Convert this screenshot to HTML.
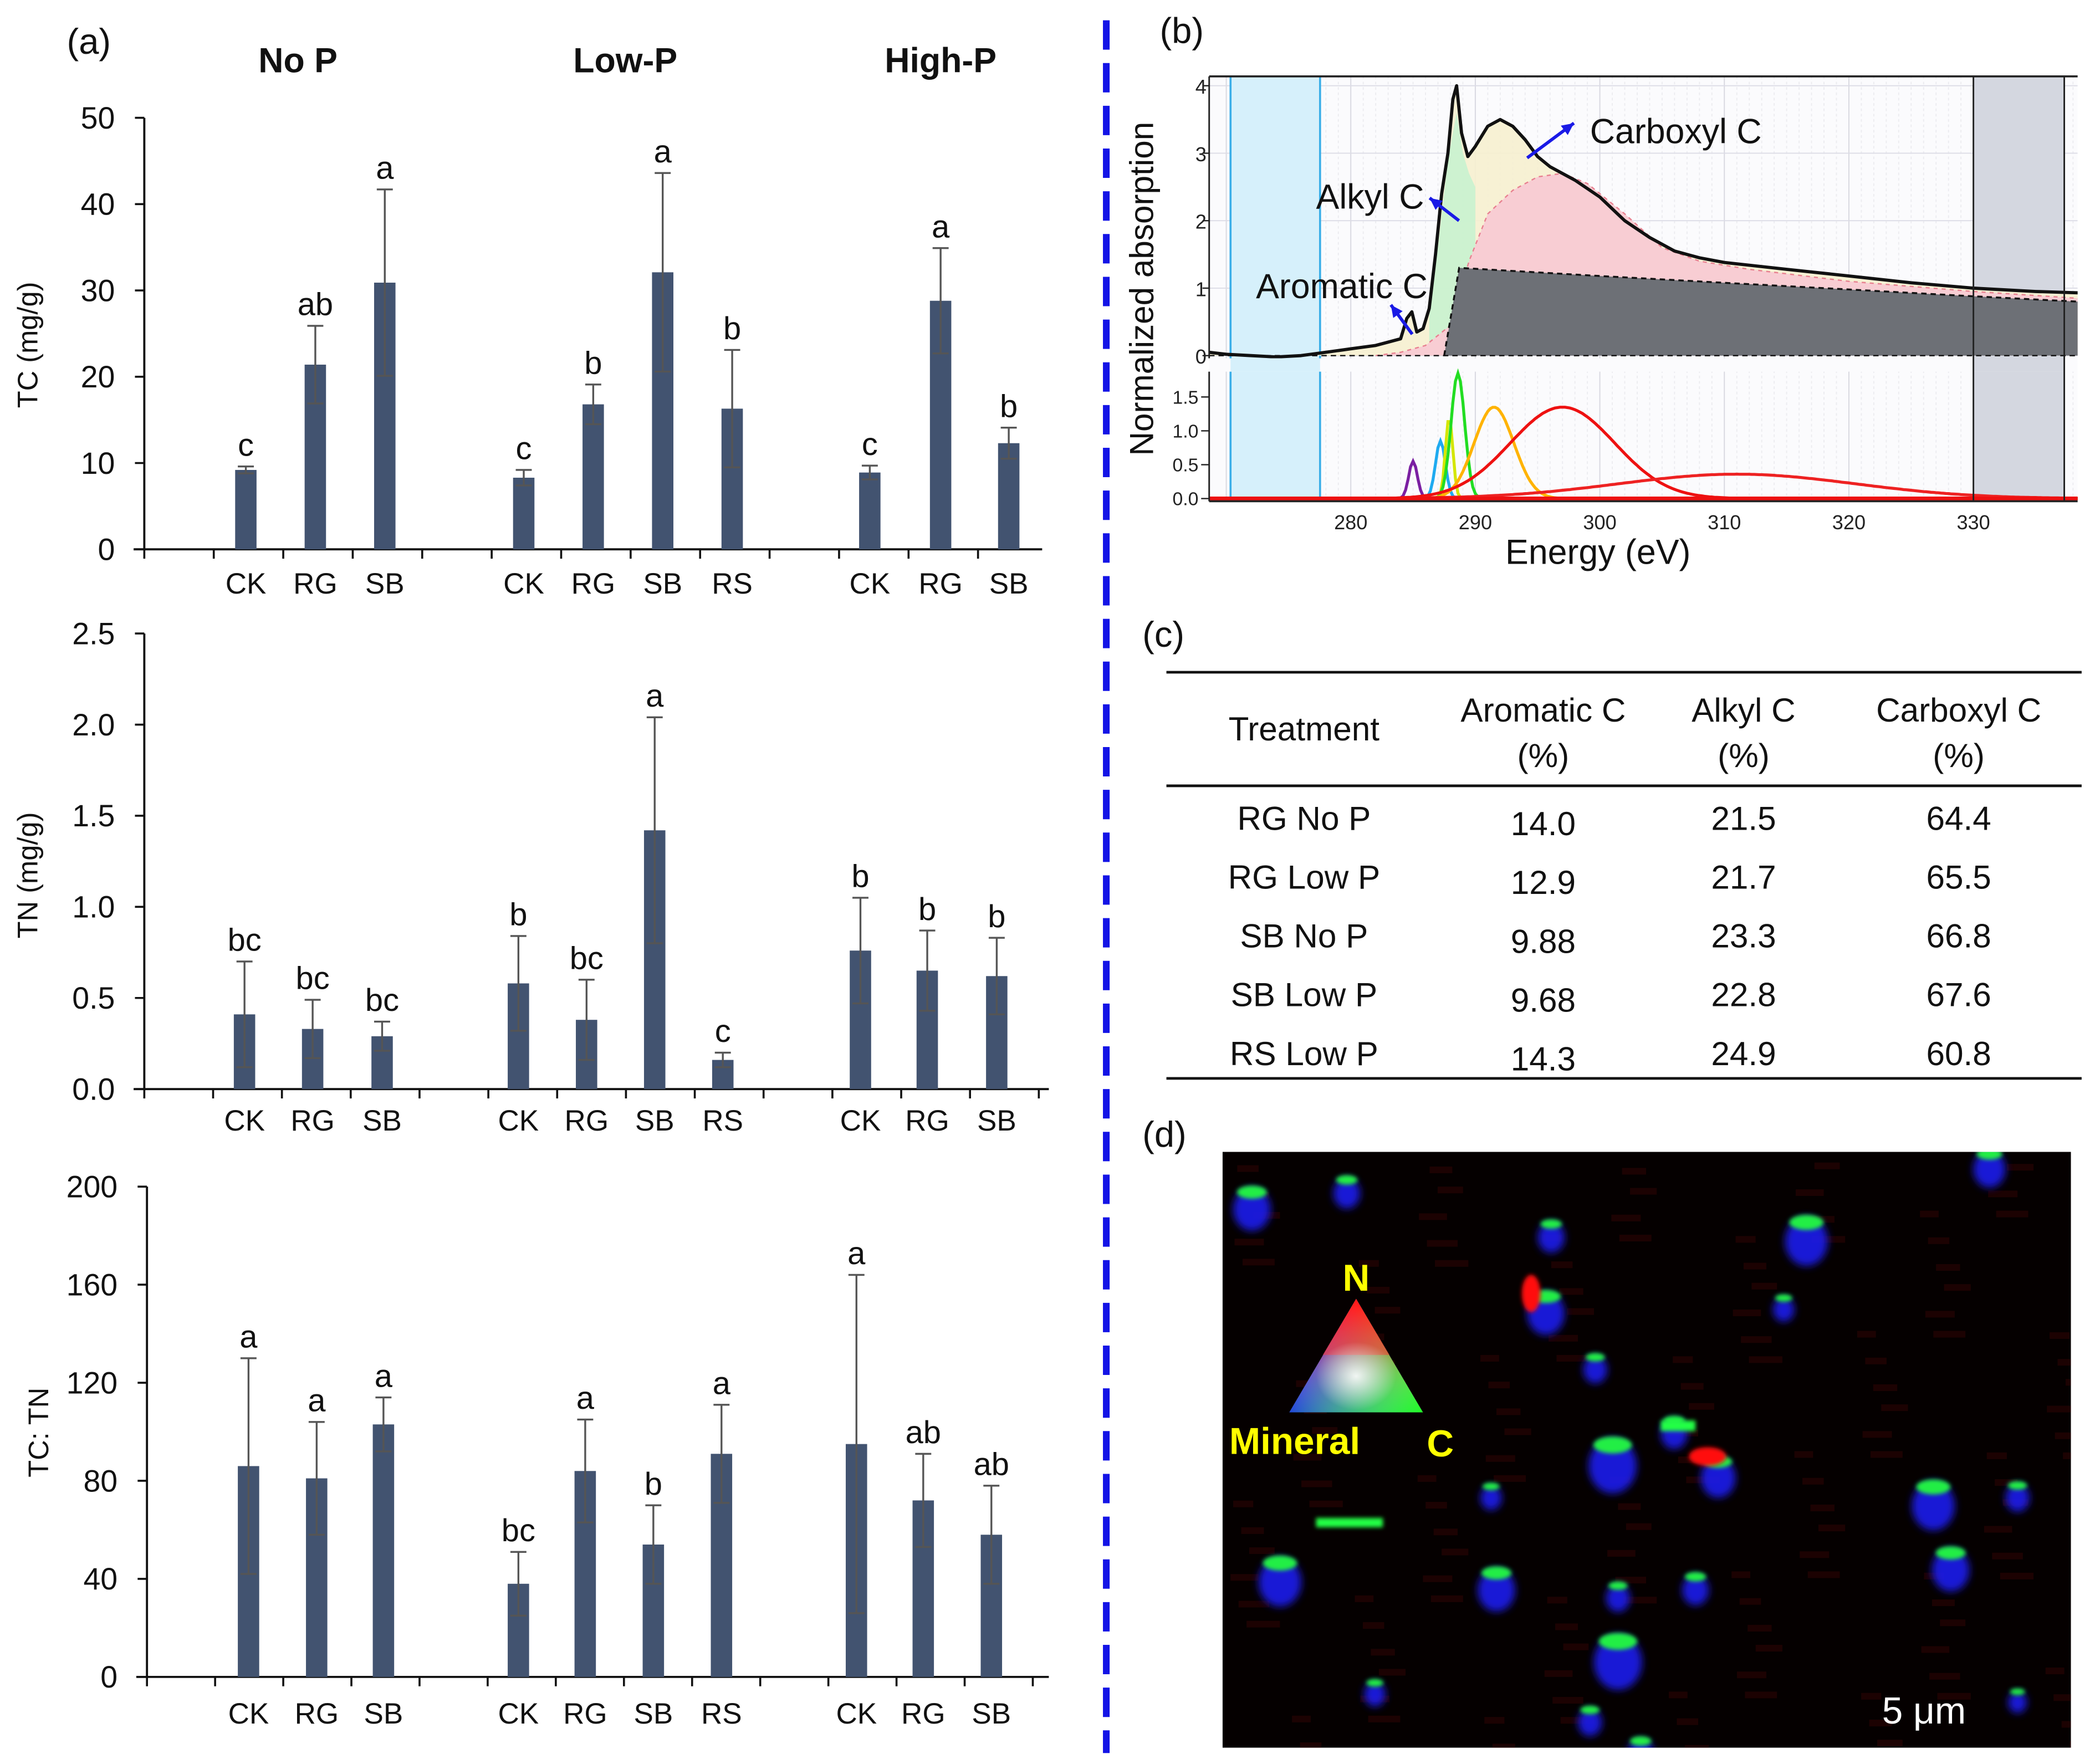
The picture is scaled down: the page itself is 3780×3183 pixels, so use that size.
<!DOCTYPE html>
<html><head><meta charset="utf-8">
<style>
html,body{margin:0;padding:0;background:#fff;}
svg{display:block;font-family:"Liberation Sans",Arial,sans-serif;}
</style></head>
<body>
<svg id="root" xmlns="http://www.w3.org/2000/svg" width="3780" height="3183" viewBox="0 0 1568 1320">
<defs>
<filter id="blur2" x="-50%" y="-50%" width="200%" height="200%"><feGaussianBlur stdDeviation="3"/></filter>
<filter id="blur1" x="-50%" y="-50%" width="200%" height="200%"><feGaussianBlur stdDeviation="1.5"/></filter>
<linearGradient id="triR" x1="0.5" y1="0" x2="0.5" y2="1"><stop offset="0" stop-color="#ff0000"/><stop offset="1" stop-color="#ff0000" stop-opacity="0"/></linearGradient>
<linearGradient id="triB" x1="0" y1="1" x2="0.75" y2="0.4"><stop offset="0" stop-color="#0000ff"/><stop offset="1" stop-color="#0000ff" stop-opacity="0"/></linearGradient>
<linearGradient id="triG" x1="1" y1="1" x2="0.25" y2="0.4"><stop offset="0" stop-color="#00ff00"/><stop offset="1" stop-color="#00ff00" stop-opacity="0"/></linearGradient>
<radialGradient id="triW" cx="0.5" cy="0.68" r="0.3"><stop offset="0" stop-color="#ffffff" stop-opacity="0.9"/><stop offset="1" stop-color="#ffffff" stop-opacity="0"/></radialGradient>
<clipPath id="clipB"><rect x="905" y="57" width="650" height="318"/></clipPath>
<clipPath id="clipD"><rect x="915" y="862" width="635" height="446"/></clipPath>
</defs>
<rect x="0" y="0" width="1568" height="1320" fill="#fff"/>
<g id="panelA"></g>
<line x1="828" y1="15" x2="828" y2="1312" stroke="#1414e6" stroke-width="5" stroke-dasharray="22,10"/>
<g id="panelB"></g>
<g id="panelC"></g>
<g id="panelD"></g>
</svg>
<script>
// ===== Panel (a) data =====
const categories = ["CK","RG","SB","CK","RG","SB","RS","CK","RG","SB"];
const groups = ["No P","Low-P","High-P"];
const tcValues = [9.2,21.4,30.9,8.3,16.8,32.1,16.3,8.9,28.8,12.3];
const tcErrors = [0.4,4.5,10.8,0.9,2.3,11.5,6.8,0.8,6.1,1.8];
const tcLetters = ["c","ab","a","c","b","a","b","c","a","b"];
const tcTicks = [0,10,20,30,40,50];
const tnValues = [0.41,0.33,0.29,0.58,0.38,1.42,0.16,0.76,0.65,0.62];
const tnErrors = [0.29,0.16,0.08,0.26,0.22,0.62,0.04,0.29,0.22,0.21];
const tnLetters = ["bc","bc","bc","b","bc","a","c","b","b","b"];
const tnTicks = ["0.0","0.5","1.0","1.5","2.0","2.5"];
const ratioValues = [86,81,103,38,84,54,91,95,72,58];
const ratioErrors = [44,23,11,13,21,16,20,69,19,20];
const ratioLetters = ["a","a","a","bc","a","b","a","a","ab","ab"];
const ratioTicks = [0,40,80,120,160,200];

// ===== Panel (b) data =====
const specE = [268.6,270,272,274,276,278,280,282,283,284,284.5,284.9,285.3,285.8,286.3,286.8,287.3,287.8,288.2,288.5,288.9,289.4,290,291,292,293,294,295,296,298,300,302,304,306,308,310,315,320,325,330,335,338.4];
const specA = [0.05,0.02,0.0,-0.02,0.0,0.05,0.1,0.15,0.2,0.25,0.55,0.65,0.35,0.4,0.7,1.5,2.4,3.0,3.8,4.0,3.3,2.95,3.1,3.4,3.5,3.4,3.2,2.95,2.8,2.6,2.35,2.0,1.75,1.55,1.45,1.38,1.28,1.18,1.08,1.0,0.95,0.93];
const stepE = [287.5,288.7,300,310,320,330,338.4];
const stepA = [0,1.3,1.18,1.08,0.98,0.88,0.8];
const pinkE = [282,284,286,288,289.5,291,293,295,297,299,302,305,308,312,320,330,338.4];
const pinkA = [0,0.05,0.15,0.45,1.4,2.1,2.45,2.65,2.7,2.55,2.1,1.6,1.4,1.28,1.1,0.95,0.85];
const greenE = [286.3,287,287.8,288.5,289,289.5,290];
const greenA = [0.6,1.6,2.9,3.6,3.0,2.7,2.5];
const peakCenters = [285.0,287.2,287.9,288.6,291.5,297.0,311.0];
const peakHeights = [0.55,0.85,1.2,1.85,1.35,1.35,0.36];
const peakWidths = [0.35,0.4,0.3,0.55,1.6,4.2,9.5];
const peakColors = ["#7b1fa2","#1eaaf0","#d4e600","#22dd22","#ffb300","#ee1111","#ee2222"];
const eTicks = [280,290,300,310,320,330];
const topTicks = [0,1,2,3,4];
const botTicks = ["0.0","0.5","1.0","1.5"];

// ===== Panel (c) data =====
const tableHead = [["Treatment",""],["Aromatic C","(%)"],["Alkyl C","(%)"],["Carboxyl C","(%)"]];
const tableRows = [["RG No P","14.0","21.5","64.4"],["RG Low P","12.9","21.7","65.5"],["SB No P","9.88","23.3","66.8"],["SB Low P","9.68","22.8","67.6"],["RS Low P","14.3","24.9","60.8"]];

// ===== Panel (d) particle positions =====
const blobX = [937,1008,1161,1352,1157,1194,1207,1286,1253,1116,958,1120,1211,1269,1211,1447,1460,1510,1489,1335,1510,1029,1228,1190];
const blobY = [902,890,923,926,980,1022,1094,1103,1070,1118,1181,1187,1193,1187,1241,1124,1172,1118,872,977,1271,1265,1310,1286];
const blobR = [14,10,10,16,14,9,18,13,10,8,16,14,9,10,18,16,14,9,12,8,7,8,10,9];

const NS = "http://www.w3.org/2000/svg";
function el(tag, attrs, parent, text){
  const e = document.createElementNS(NS, tag);
  for (const k in attrs) e.setAttribute(k, attrs[k]);
  if (text !== undefined) e.textContent = text;
  parent.appendChild(e);
  return e;
}

// ===== Panel (a) =====
const pA = document.getElementById('panelA');
let t = el('text',{x:50,y:40,'font-size':27,fill:'#111'},pA,'(a)');


const groupX = [223,468,704];
groups.forEach((g,i)=>{
  const gt = el('text',{x:groupX[i],y:54,'font-size':26,'font-weight':'bold','text-anchor':'middle',fill:'#111'},pA,g);
  
  
});

function barChart(cfg){
  const g = el('g',{},pA);
  
  
  const yScale = v => cfg.y0 - (v - cfg.min)/(cfg.max - cfg.min)*(cfg.y0 - cfg.y1);
  const ya = el('line',{x1:cfg.ax,y1:cfg.y1,x2:cfg.ax,y2:cfg.y0,stroke:'#111','stroke-width':1.6},g);
  
  
  const xa = el('line',{x1:cfg.ax-8,y1:cfg.y0,x2:cfg.axEnd,y2:cfg.y0,stroke:'#111','stroke-width':1.6},g);
  
  
  cfg.ticks.forEach(tk=>{
    const v = parseFloat(tk);
    const y = yScale(v);
    el('line',{x1:cfg.ax-7,y1:y,x2:cfg.ax,y2:y,stroke:'#111','stroke-width':1.5},g);
    const tl = el('text',{x:cfg.ax-22,y:y+8,'font-size':23,'text-anchor':'end',fill:'#111'},g,String(tk));
    
    
  });
  for (let x = cfg.ax; x <= cfg.axEnd + 1; x += cfg.tickStep){
    el('line',{x1:x,y1:cfg.y0,x2:x,y2:cfg.y0+7,stroke:'#111','stroke-width':1.5},g);
  }
  const yt = el('text',{x:0,y:0,'font-size':21,'text-anchor':'middle',fill:'#111',transform:`translate(${cfg.titleX},${cfg.titleY}) rotate(-90)`},g,cfg.title);
  
  
  cfg.values.forEach((v,i)=>{
    const cx = cfg.xs[i];
    const top = yScale(v);
    const b = el('rect',{x:cx-8,y:top,width:16,height:cfg.y0-top,fill:'#425370'},g);
    
    
    const eh = yScale(v+cfg.errors[i]), el2 = yScale(Math.max(cfg.min, v-cfg.errors[i]));
    const eb = el('line',{x1:cx,y1:eh,x2:cx,y2:el2,stroke:'#555','stroke-width':1.4},g);
    
    
    el('line',{x1:cx-6,y1:eh,x2:cx+6,y2:eh,stroke:'#555','stroke-width':1.4},g);
    el('line',{x1:cx-6,y1:el2,x2:cx+6,y2:el2,stroke:'#555','stroke-width':1.4},g);
    const lt = el('text',{x:cx,y:eh-8,'font-size':24,'text-anchor':'middle',fill:'#111'},g,cfg.letters[i]);
    
    
    const ct = el('text',{x:cx,y:cfg.labelY,'font-size':22,'text-anchor':'middle',fill:'#111'},g,categories[i]);
    
    
  });
}
barChart({name:'tc-chart',ax:108,axEnd:780,y0:411,y1:88,min:0,max:50,ticks:tcTicks,tickStep:52,
  values:tcValues,errors:tcErrors,letters:tcLetters,xs:[184,236,288,392,444,496,548,651,704,755],
  labelY:444,title:'TC (mg/g)',titleX:28,titleY:258});
barChart({name:'tn-chart',ax:108,axEnd:785,y0:815,y1:474,min:0,max:2.5,ticks:tnTicks,tickStep:51.5,
  values:tnValues,errors:tnErrors,letters:tnLetters,xs:[183,234,286,388,439,490,541,644,694,746],
  labelY:846,title:'TN (mg/g)',titleX:28,titleY:655});
barChart({name:'tc-tn-ratio-chart',ax:110,axEnd:785,y0:1255,y1:888,min:0,max:200,ticks:ratioTicks,tickStep:51,
  values:ratioValues,errors:ratioErrors,letters:ratioLetters,xs:[186,237,287,388,438,489,540,641,691,742],
  labelY:1290,title:'TC: TN',titleX:36,titleY:1072});

// ===== Panel (b) =====
const pB = document.getElementById('panelB');
const ex = e => 1011 + (e-280)*9.32;
const ty = a => 266 - a*50.5;
const by = a => 373 - a*50.7;
t = el('text',{x:868,y:32,'font-size':27,fill:'#111'},pB,'(b)');


const plot = el('g',{'clip-path':'url(#clipB)'},pB);
el('rect',{x:905,y:57,width:650,height:318,fill:'#fbfbfd'},plot);
for (let e=270;e<=338;e+=1){
  el('line',{x1:ex(e),y1:57,x2:ex(e),y2:375,stroke: e%10===0?'#d8d8e0':'#ececf0','stroke-width':0.8,'stroke-dasharray': e%10===0?'':'2,2'},plot);
}
topTicks.forEach(v=>el('line',{x1:905,y1:ty(v),x2:1555,y2:ty(v),stroke:'#dcdce6','stroke-width':0.8},plot));
const blueR = el('rect',{x:921,y:57,width:67,height:318,fill:'#d6f0fb'},plot);


el('line',{x1:921,y1:57,x2:921,y2:375,stroke:'#3aaee8','stroke-width':1.5},plot);
el('line',{x1:988,y1:57,x2:988,y2:375,stroke:'#3aaee8','stroke-width':1.5},plot);
const grayR = el('rect',{x:1477,y:57,width:68,height:318,fill:'#d4d7e0'},plot);


function ptsPath(E,A,yf,close){
  let d = '';
  E.forEach((e,i)=>{ d += (i?'L':'M') + ex(e).toFixed(1) + ',' + yf(A[i]).toFixed(1); });
  if (close) d += `L${ex(E[E.length-1]).toFixed(1)},${yf(0)}L${ex(E[0]).toFixed(1)},${yf(0)}Z`;
  return d;
}
const yel = el('path',{d:ptsPath(specE,specA,ty,true),fill:'#f6f0cf',opacity:0.9},plot);


const grn = el('path',{d:ptsPath(greenE,greenA,ty,true),fill:'#c8f2cf',opacity:0.9},plot);


const pnk = el('path',{d:ptsPath(pinkE,pinkA,ty,true),fill:'#f8cdd3'},plot);


el('path',{d:ptsPath(pinkE,pinkA,ty,false),fill:'none',stroke:'#e88090','stroke-width':1,'stroke-dasharray':'3,3'},plot);
const stp = el('path',{d:ptsPath(stepE,stepA,ty,true),fill:'#6d7076'},plot);


el('path',{d:ptsPath(stepE,stepA,ty,false),fill:'none',stroke:'#111','stroke-width':1.4,'stroke-dasharray':'4,3'},plot);
el('line',{x1:905,y1:ty(0),x2:1555,y2:ty(0),stroke:'#111','stroke-width':1,'stroke-dasharray':'4,3'},plot);
const sp = el('path',{d:ptsPath(specE,specA,ty,false),fill:'none',stroke:'#111','stroke-width':2.4,'stroke-linejoin':'round'},plot);


el('rect',{x:905,y:268,width:650,height:10,fill:'#fbfbfd'},plot);
el('rect',{x:921,y:268,width:67,height:10,fill:'#d6f0fb'},plot);
el('rect',{x:1477,y:268,width:68,height:10,fill:'#d4d7e0'},plot);
peakCenters.forEach((c,i)=>{
  let d='';
  for (let e=268.6;e<=338.4;e+=0.2){
    const a = peakHeights[i]*Math.exp(-0.5*Math.pow((e-c)/peakWidths[i],2));
    d += (d?'L':'M') + ex(e).toFixed(1) + ',' + by(a).toFixed(1);
  }
  const p = el('path',{d:d,fill:'none',stroke:peakColors[i],'stroke-width':2.2},plot);
  
  
});
el('line',{x1:905,y1:by(0),x2:1555,y2:by(0),stroke:'#ee1111','stroke-width':3},plot);
el('line',{x1:1477,y1:57,x2:1477,y2:375,stroke:'#222','stroke-width':1.2},plot);
el('line',{x1:1545,y1:57,x2:1545,y2:375,stroke:'#222','stroke-width':1.2},plot);
el('line',{x1:905,y1:57,x2:1555,y2:57,stroke:'#222','stroke-width':1.5},pB);
el('line',{x1:905,y1:57,x2:905,y2:268,stroke:'#222','stroke-width':1.2},pB);
el('line',{x1:905,y1:278,x2:905,y2:375,stroke:'#222','stroke-width':1.2},pB);
el('line',{x1:905,y1:375,x2:1555,y2:375,stroke:'#222','stroke-width':1.5},pB);
topTicks.forEach(v=>{
  el('line',{x1:900,y1:ty(v),x2:905,y2:ty(v),stroke:'#222'},pB);
  const l = el('text',{x:903,y:ty(v)+6,'font-size':15,'text-anchor':'end',fill:'#222'},pB,String(v));
  
  
});
botTicks.forEach(v=>{
  const y = by(parseFloat(v));
  el('line',{x1:899,y1:y,x2:905,y2:y,stroke:'#222'},pB);
  const l = el('text',{x:897,y:y+5,'font-size':14,'text-anchor':'end',fill:'#222'},pB,v);
  
  
});
eTicks.forEach(e=>{
  const l = el('text',{x:ex(e),y:396,'font-size':15,'text-anchor':'middle',fill:'#222'},pB,String(e));
  
  
});
t = el('text',{x:1196,y:422,'font-size':26,'text-anchor':'middle',fill:'#111'},pB,'Energy (eV)');


t = el('text',{x:0,y:0,'font-size':25,'text-anchor':'middle',fill:'#111',transform:'translate(863,216) rotate(-90)'},pB,'Normalized absorption');


function arrow(x1,y1,x2,y2,name){
  const a = el('line',{x1:x1,y1:y1,x2:x2,y2:y2,stroke:'#1a1ae6','stroke-width':2.4},pB);
  
  
  const ang = Math.atan2(y2-y1,x2-x1), L=10;
  const p1 = [x2 - L*Math.cos(ang-0.45), y2 - L*Math.sin(ang-0.45)];
  const p2 = [x2 - L*Math.cos(ang+0.45), y2 - L*Math.sin(ang+0.45)];
  el('polygon',{points:`${x2},${y2} ${p1[0]},${p1[1]} ${p2[0]},${p2[1]}`,fill:'#1a1ae6'},pB);
}
arrow(1143,118,1178,92,'carboxyl-arrow');
arrow(1092,165,1070,148,'alkyl-arrow');
arrow(1057,250,1041,228,'aromatic-arrow');
[['Carboxyl C',1190,107],['Alkyl C',985,156],['Aromatic C',940,223]].forEach(a=>{
  const l = el('text',{x:a[1],y:a[2],'font-size':26,fill:'#111'},pB,a[0]);
  
  
});

// ===== Panel (c) =====
const pC = document.getElementById('panelC');
t = el('text',{x:855,y:484,'font-size':27,fill:'#111'},pC,'(c)');


const colX = [976,1155,1305,1466];
el('line',{x1:873,y1:503,x2:1558,y2:503,stroke:'#111','stroke-width':2},pC);
el('line',{x1:873,y1:588,x2:1558,y2:588,stroke:'#111','stroke-width':2},pC);
el('line',{x1:873,y1:807,x2:1558,y2:807,stroke:'#111','stroke-width':2},pC);
tableHead.forEach((h,i)=>{
  if (h[1]===''){
    const l = el('text',{x:colX[i],y:554,'font-size':25,'text-anchor':'middle',fill:'#111'},pC,h[0]);
    
    
  } else {
    const l = el('text',{x:colX[i],y:540,'font-size':25,'text-anchor':'middle',fill:'#111'},pC,h[0]);
    
    
    el('text',{x:colX[i],y:574,'font-size':25,'text-anchor':'middle',fill:'#111'},pC,h[1]);
  }
});
tableRows.forEach((r,ri)=>{
  const y = 621 + ri*44;
  r.forEach((c,ci)=>{
    const l = el('text',{x:colX[ci],y: ci===1 ? y+4 : y,'font-size':25,'text-anchor':'middle',fill:'#111'},pC,c);
    
    
  });
});

// ===== Panel (d) =====
const pD = document.getElementById('panelD');
t = el('text',{x:855,y:858,'font-size':27,fill:'#111'},pD,'(d)');


const img = el('g',{'clip-path':'url(#clipD)'},pD);


el('rect',{x:915,y:862,width:635,height:446,fill:'#050000'},img);
for (let yy=870; yy<1308; yy+=18){
  for (let xx=920; xx<1550; xx+=47){
    const k = ((xx*7 + yy*13) % 29);
    if (k < 12) el('rect',{x:xx + (k*3)%20,y:yy+(k%5),width:14+k,height:5,fill:'#3a0505',opacity:0.45},img);
  }
}
blobX.forEach((x,i)=>{
  const y = blobY[i], r = blobR[i];
  const g = el('g',{},img);
  
  
  el('ellipse',{cx:x,cy:y+3,rx:r,ry:r*1.15,fill:'#1a1aee',filter:'url(#blur2)',opacity:0.9},g);
  el('ellipse',{cx:x,cy:y-r*0.7,rx:r*0.8,ry:r*0.35,fill:'#22ee44',filter:'url(#blur1)'},g);
});
el('ellipse',{cx:1146,cy:968,rx:7,ry:14,fill:'#ff1010',filter:'url(#blur1)'},img);
el('ellipse',{cx:1278,cy:1090,rx:14,ry:7,fill:'#ff1010',filter:'url(#blur1)'},img);
el('rect',{x:985,y:1136,width:50,height:7,fill:'#22ff44',filter:'url(#blur1)'},img);
el('rect',{x:1243,y:1063,width:26,height:8,fill:'#22ff44',filter:'url(#blur1)'},img);
const tri = el('g',{},pD);


const triPts = "1015,972 965,1057 1065,1057";
el('polygon',{points:triPts,fill:'#ffffff'},tri);
el('polygon',{points:triPts,fill:'url(#triR)','style':'mix-blend-mode:multiply'},tri);
el('polygon',{points:triPts,fill:'url(#triB)',opacity:0.85},tri);
el('polygon',{points:triPts,fill:'url(#triG)',opacity:0.85},tri);
el('polygon',{points:"1015,972 990,1014 1040,1014",fill:'#ff3030',opacity:0.5},tri);
el('polygon',{points:triPts,fill:'url(#triW)'},tri);
[['N',1015,966,'middle'],['Mineral',920,1088,'start'],['C',1078,1090,'middle']].forEach(a=>{
  const l = el('text',{x:a[1],y:a[2],'font-size':28,'font-weight':'bold','text-anchor':a[3],fill:'#ffff00'},pD,a[0]);
  
  
});
t = el('text',{x:1440,y:1290,'font-size':28,'text-anchor':'middle',fill:'#ffffff'},pD,'5 μm');


</script>
</body></html>
